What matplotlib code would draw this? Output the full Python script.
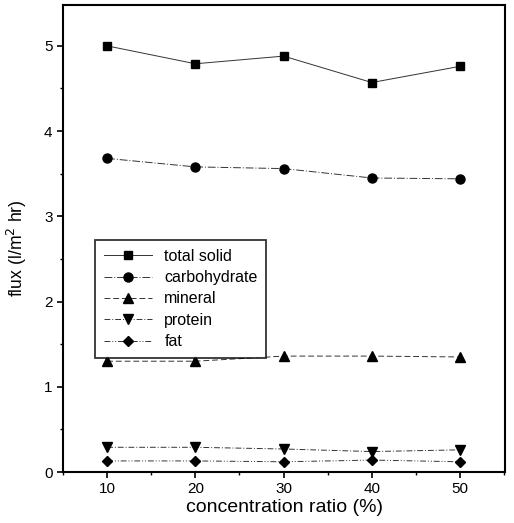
import matplotlib
matplotlib.use("Agg")
import matplotlib.pyplot as plt
from matplotlib.ticker import MultipleLocator

plt.rcParams['font.family'] = ['Liberation Sans', 'DejaVu Sans']

# concentration ratio (%) and measured flux for each component
ratio = [10, 20, 30, 40, 50]
total_solid = [5.00, 4.79, 4.88, 4.57, 4.76]
carbohydrate = [3.68, 3.58, 3.56, 3.45, 3.44]
mineral = [1.30, 1.30, 1.36, 1.36, 1.35]
protein = [0.29, 0.29, 0.27, 0.24, 0.26]
fat = [0.13, 0.13, 0.12, 0.14, 0.12]

fig = plt.figure(figsize=(5.14, 5.23), dpi=100)
ax = fig.add_axes([0.1226, 0.0975, 0.86, 0.893])

lw = 0.7
lc = '#333333'
kw = dict(color=lc, mfc='black', mec='black', lw=lw)
ax.plot(ratio, total_solid, ls='-', marker='s', ms=5.5, label='total solid', **kw)
ax.plot(ratio, carbohydrate, ls=(0, (8, 2, 1, 2)), marker='o', ms=6.5, label='carbohydrate', **kw)
ax.plot(ratio, mineral, ls=(0, (6, 3)), marker='^', ms=6.5, label='mineral', **kw)
ax.plot(ratio, protein, ls=(0, (6, 2, 1, 2)), marker='v', ms=6.5, label='protein', **kw)
ax.plot(ratio, fat, ls=(0, (6, 2, 1, 2, 1, 2)), marker='D', ms=5, label='fat', **kw)

ax.set_xlim(5, 55.1)
ax.set_ylim(0, 5.48)
ax.xaxis.set_major_locator(MultipleLocator(10))
ax.xaxis.set_minor_locator(MultipleLocator(5))
ax.yaxis.set_major_locator(MultipleLocator(1))
ax.yaxis.set_minor_locator(MultipleLocator(0.5))
ax.tick_params(which='major', direction='out', length=4, width=1.2, labelsize=11)
ax.tick_params(which='minor', direction='out', length=2.5, width=1)
for sp in ax.spines.values():
    sp.set_linewidth(1.5)

ax.set_xlabel('concentration ratio (%)', fontsize=14, labelpad=2)
ax.set_ylabel('flux (l/m$^2$ hr)', fontsize=12.7)
ax.yaxis.set_label_coords(-0.078, 0.479)

leg = ax.legend(loc='lower left', bbox_to_anchor=(0.072, 0.244), borderaxespad=0,
                fancybox=False, edgecolor='black', fontsize=11.5, handlelength=3.0,
                handletextpad=0.8, labelspacing=0.4, borderpad=0.55)
leg.get_frame().set_linewidth(1.3)

fig.savefig('out.png', dpi=100)
